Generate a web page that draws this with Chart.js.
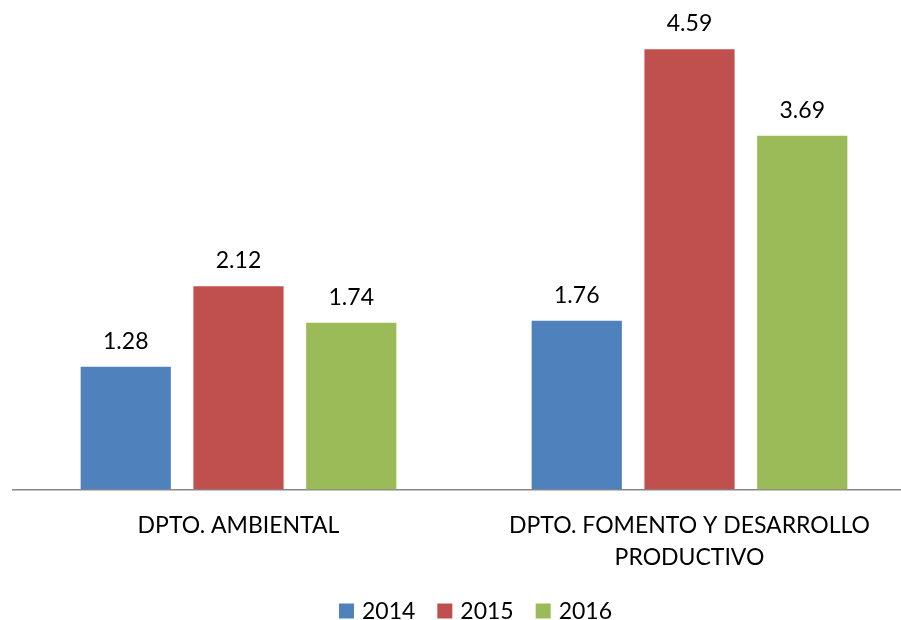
<!DOCTYPE html>
<html lang="es">
<head>
    <meta charset="UTF-8">
    <title>Departamentos 2014-2016</title>
    <style>
        body {
            margin: 0;
            padding: 0;
            background-color: #fff;
            overflow: hidden;
        }
        .chart-box {
            width: 951px;
            height: 620px;
        }
    </style>
    <script src="https://cdn.jsdelivr.net/npm/chart.js"></script>
</head>
<body>
    <div class="chart-box">
        <canvas id="deptChart" width="951" height="620"></canvas>
    </div>

    <script>
        // Categories and yearly values
        const departments = [
            ['DPTO. AMBIENTAL'],
            ['DPTO. FOMENTO Y DESARROLLO', 'PRODUCTIVO']
        ];
        const years = ['2014', '2015', '2016'];
        const values2014 = [1.28, 1.76];
        const values2015 = [2.12, 4.59];
        const values2016 = [1.74, 3.69];
        const yearColors = ['#4F81BD', '#C0504D', '#9BBB59'];

        const fontFamily = 'Lato, "Open Sans", sans-serif';

        // Writes each bar's value above it
        const valueLabels = {
            id: 'valueLabels',
            afterDatasetsDraw(chart) {
                const ctx = chart.ctx;
                ctx.save();
                ctx.font = '23px ' + fontFamily;
                ctx.fillStyle = '#000';
                ctx.textAlign = 'center';
                ctx.textBaseline = 'alphabetic';
                chart.data.datasets.forEach((ds, i) => {
                    chart.getDatasetMeta(i).data.forEach((bar, j) => {
                        ctx.fillText(ds.data[j].toFixed(2), bar.x, bar.y - 18);
                    });
                });
                ctx.restore();
            }
        };

        // Legend row along the bottom, wider gaps than the built-in one
        const bottomLegend = {
            id: 'bottomLegend',
            afterDraw(chart) {
                const ctx = chart.ctx;
                const box = 15, gap = 8, spacing = 22;
                const y = chart.height - 9;
                ctx.save();
                ctx.font = '23px ' + fontFamily;
                ctx.textBaseline = 'middle';
                const items = chart.data.datasets.map(ds => ({
                    text: ds.label,
                    color: ds.backgroundColor,
                    w: box + gap + ctx.measureText(ds.label).width
                }));
                const total = items.reduce((s, it) => s + it.w, 0) + spacing * (items.length - 1);
                let x = chart.width / 2 - total / 2;
                items.forEach(it => {
                    ctx.fillStyle = it.color;
                    ctx.fillRect(x, y - box / 2, box, box);
                    ctx.fillStyle = '#000';
                    ctx.fillText(it.text, x + box + gap, y + 1);
                    x += it.w + spacing;
                });
                ctx.restore();
            }
        };

        const seriesValues = [values2014, values2015, values2016];

        new Chart(document.getElementById('deptChart').getContext('2d'), {
            type: 'bar',
            data: {
                labels: departments,
                datasets: years.map((y, i) => ({
                    label: y,
                    data: seriesValues[i],
                    backgroundColor: yearColors[i],
                    barPercentage: 0.8,
                    categoryPercentage: 0.75
                }))
            },
            options: {
                responsive: false,
                animation: false,
                devicePixelRatio: 1,
                layout: {
                    padding: { top: 10, left: 13, right: 36, bottom: 26 }
                },
                plugins: {
                    tooltip: { enabled: false },
                    legend: { display: false }
                },
                scales: {
                    x: {
                        grid: { display: false, drawTicks: false },
                        border: { display: true, color: '#888', width: 1.5 },
                        ticks: {
                            color: '#000',
                            padding: 20,
                            maxRotation: 0,
                            font: { family: fontFamily, size: 23, lineHeight: 1.4 }
                        }
                    },
                    y: {
                        display: false,
                        min: 0,
                        max: 5
                    }
                }
            },
            plugins: [valueLabels, bottomLegend]
        });
    </script>
</body>
</html>
